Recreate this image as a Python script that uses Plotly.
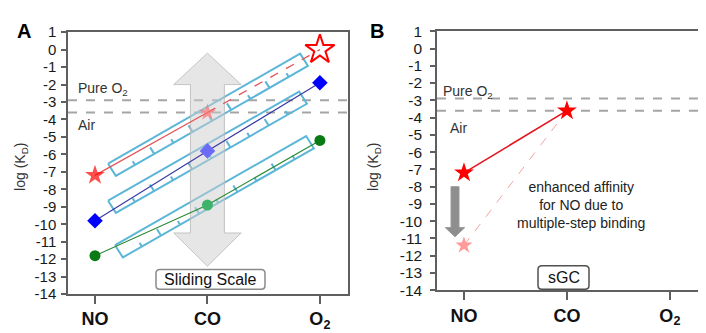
import plotly.graph_objects as go

# ---------------- data ----------------
categories = ["NO", "CO", "O2"]
cat_pos = [0, 1, 2]
cat_labels = ["<b>NO</b>", "<b>CO</b>", "<b>O<sub>2</sub></b>"]

red_vals = [-7.2, -3.6, 0.0]      # star series (panel A)
blue_vals = [-9.8, -5.8, -1.9]    # diamond series
green_vals = [-11.8, -8.9, -5.2]  # circle series

pure_o2 = -2.9
air = -3.6

sgc_vals = [-7.2, -3.6]           # panel B, NO and CO
sgc_enhanced_no = -11.4           # pink star after multi-step binding

ytick_vals = list(range(-14, 2))
ytick_text = [str(v) for v in ytick_vals]

# ruler (sliding scale) centre lines, data units: (x0, y0, x1, y1)
ruler_top = [0.151, -6.88, 1.859, -0.58]
ruler_mid = [0.151, -9.0, 1.850, -2.75]
ruler_bot = [0.213, -11.55, 1.912, -5.30]

FONT = "Arial, Liberation Sans, sans-serif"
W, H = 706, 333

# panel geometry (pixels)
PA = dict(x0=60, x1=340, y0=16, y1=292, xr=(-0.24, 2.25), yr=(-14, 1))
PB = dict(x0=429, x1=701, y0=15, y1=288, xr=(-0.262, 2.38), yr=(-14, 1))


def to_px(P, x, y):
    px = P["x0"] + (x - P["xr"][0]) / (P["xr"][1] - P["xr"][0]) * (P["x1"] - P["x0"])
    py = P["y1"] - (y - P["yr"][0]) / (P["yr"][1] - P["yr"][0]) * (P["y1"] - P["y0"])
    return px, py


def to_data(P, px, py):
    x = P["xr"][0] + (px - P["x0"]) / (P["x1"] - P["x0"]) * (P["xr"][1] - P["xr"][0])
    y = P["yr"][0] + (P["y1"] - py) / (P["y1"] - P["y0"]) * (P["yr"][1] - P["yr"][0])
    return x, y


def ruler_paths(P, r, thick=15, n=10):
    ax, ay = to_px(P, r[0], r[1])
    bx, by = to_px(P, r[2], r[3])
    L = ((bx - ax) ** 2 + (by - ay) ** 2) ** 0.5
    ux, uy = (bx - ax) / L, (by - ay) / L
    nx, ny = -uy, ux  # points down-right on screen
    h = thick / 2
    corners = [(ax - nx * h, ay - ny * h), (bx - nx * h, by - ny * h),
               (bx + nx * h, by + ny * h), (ax + nx * h, ay + ny * h),
               (ax - nx * h, ay - ny * h)]
    xs, ys = [], []
    for c in corners:
        d = to_data(P, *c)
        xs.append(d[0]); ys.append(d[1])
    xs.append(None); ys.append(None)
    for k in range(1, n):
        bxk = ax + ux * L * k / n + nx * h
        byk = ay + uy * L * k / n + ny * h
        ln = 8 if k % 2 == 0 else 4.5
        for p in [(bxk, byk), (bxk - nx * ln, byk - ny * ln)]:
            d = to_data(P, *p)
            xs.append(d[0]); ys.append(d[1])
        xs.append(None); ys.append(None)
    return xs, ys


def rounded_box_path(cx, cy, w, h, r=4):
    """rounded rectangle in paper coords, from pixel centre/size"""
    x0, x1 = cx - w / 2, cx + w / 2
    y0, y1 = cy - h / 2, cy + h / 2
    def P(x, y):
        return f"{x / W:.5f},{1 - y / H:.5f}"
    return (f"M {P(x0 + r, y0)} L {P(x1 - r, y0)} Q {P(x1, y0)} {P(x1, y0 + r)} "
            f"L {P(x1, y1 - r)} Q {P(x1, y1)} {P(x1 - r, y1)} L {P(x0 + r, y1)} "
            f"Q {P(x0, y1)} {P(x0, y1 - r)} L {P(x0, y0 + r)} Q {P(x0, y0)} {P(x0 + r, y0)} Z")


fig = go.Figure()

# rulers
for r in [ruler_top, ruler_mid, ruler_bot]:
    xs, ys = ruler_paths(PA, r)
    fig.add_trace(go.Scatter(x=xs, y=ys, mode="lines", line=dict(color="#5cb6d8", width=2),
                             hoverinfo="skip", showlegend=False, xaxis="x", yaxis="y"))

# big double arrow (sliding scale) - centred on CO
arr_c = 1.0
shaft_hw, head_hw = 0.151, 0.30
tip_top, base_top, base_bot, tip_bot = -0.2, -2.0, -10.5, -12.4
ax_ = [arr_c, arr_c + head_hw, arr_c + shaft_hw, arr_c + shaft_hw, arr_c + head_hw, arr_c,
       arr_c - head_hw, arr_c - shaft_hw, arr_c - shaft_hw, arr_c - head_hw, arr_c]
ay_ = [tip_top, base_top, base_top, base_bot, base_bot, tip_bot,
       base_bot, base_bot, base_top, base_top, tip_top]
fig.add_trace(go.Scatter(x=ax_, y=ay_, mode="lines", fill="toself",
                         fillcolor="rgba(205,205,205,0.5)",
                         line=dict(color="rgba(185,185,185,0.8)", width=1),
                         hoverinfo="skip", showlegend=False, xaxis="x", yaxis="y"))

# series lines panel A
fig.add_trace(go.Scatter(x=cat_pos[:2], y=red_vals[:2], mode="lines",
                         line=dict(color="#e25458", width=1.2), showlegend=False))
fig.add_trace(go.Scatter(x=cat_pos[1:], y=red_vals[1:], mode="lines",
                         line=dict(color="#e25458", width=1.3, dash="dash"), showlegend=False))
fig.add_trace(go.Scatter(x=cat_pos, y=blue_vals, mode="lines",
                         line=dict(color="#3b3ba8", width=1.2), showlegend=False))
fig.add_trace(go.Scatter(x=cat_pos, y=green_vals, mode="lines",
                         line=dict(color="#2e8b3a", width=1.2), showlegend=False))

# markers panel A
fig.add_trace(go.Scatter(x=cat_pos[:2], y=red_vals[:2], mode="markers",
                         marker=dict(symbol="star", size=[15, 13], color=["#ff0000", "#f87070"],
                                     line=dict(width=0)), showlegend=False))
fig.add_trace(go.Scatter(x=[cat_pos[2]], y=[red_vals[2]], mode="markers",
                         marker=dict(symbol="star-open", size=22, color="#ff0000",
                                     line=dict(width=2)), showlegend=False))
fig.add_trace(go.Scatter(x=cat_pos, y=blue_vals, mode="markers",
                         marker=dict(symbol="diamond", size=12,
                                     color=["#0000ff", "#6b6bf5", "#0000ff"], line=dict(width=0)),
                         showlegend=False))
fig.add_trace(go.Scatter(x=cat_pos, y=green_vals, mode="markers",
                         marker=dict(symbol="circle", size=11,
                                     color=["#0a7a14", "#3db36b", "#0a7a14"], line=dict(width=0)),
                         showlegend=False))

# ---------------- panel B ----------------
# down arrow
bc = -0.087
b_shaft, b_head = 0.039, 0.095
b_top, b_base, b_tip = -8.0, -10.37, -10.9
fig.add_trace(go.Scatter(
    x=[bc - b_shaft, bc + b_shaft, bc + b_shaft, bc + b_head, bc, bc - b_head, bc - b_shaft, bc - b_shaft],
    y=[b_top, b_top, b_base, b_base, b_tip, b_base, b_base, b_top],
    mode="lines", fill="toself", fillcolor="#8e8e8e", line=dict(color="#9a9a9a", width=1),
    hoverinfo="skip", showlegend=False, xaxis="x2", yaxis="y2"))

fig.add_trace(go.Scatter(x=[cat_pos[0], cat_pos[1]], y=[sgc_enhanced_no, sgc_vals[1]], mode="lines",
                         line=dict(color="#f4a3a3", width=1, dash="dash"), showlegend=False,
                         xaxis="x2", yaxis="y2"))
fig.add_trace(go.Scatter(x=cat_pos[:2], y=sgc_vals, mode="lines+markers",
                         line=dict(color="#e5141e", width=1.6),
                         marker=dict(symbol="star", size=15, color="#ff0000", line=dict(width=0)),
                         showlegend=False, xaxis="x2", yaxis="y2"))
fig.add_trace(go.Scatter(x=[cat_pos[0]], y=[sgc_enhanced_no], mode="markers",
                         marker=dict(symbol="star", size=13, color="#ff9a9a", line=dict(width=0)),
                         showlegend=False, xaxis="x2", yaxis="y2"))

# ---------------- axes ----------------
def dom_x(P):
    return [P["x0"] / W, P["x1"] / W]


def dom_y(P):
    return [(H - P["y1"]) / H, (H - P["y0"]) / H]


axis_common = dict(showgrid=False, zeroline=False, showline=True, mirror=True,
                   linecolor="#5f5f5f", linewidth=1.5, ticks="outside", tickcolor="#5f5f5f",
                   tickwidth=1.5)

fig.update_layout(
    width=W, height=H, margin=dict(l=0, r=0, t=0, b=0),
    paper_bgcolor="white", plot_bgcolor="white",
    font=dict(family=FONT, color="#222"),
    xaxis=dict(domain=dom_x(PA), range=list(PA["xr"]), tickvals=cat_pos, ticktext=cat_labels,
               ticklen=8, tickfont=dict(size=18, color="#111"), anchor="y", **axis_common),
    yaxis=dict(domain=dom_y(PA), range=list(PA["yr"]), tickvals=ytick_vals, ticktext=ytick_text,
               ticklen=5, ticklabelstandoff=2, tickfont=dict(size=15, color="#1a1a1a"),
               anchor="x", **axis_common),
    xaxis2=dict(domain=dom_x(PB), range=list(PB["xr"]), tickvals=cat_pos, ticktext=cat_labels,
                ticklen=8, tickfont=dict(size=18, color="#111"), anchor="y2", **axis_common),
    yaxis2=dict(domain=dom_y(PB), range=list(PB["yr"]), tickvals=ytick_vals, ticktext=ytick_text,
                ticklen=5, ticklabelstandoff=5, tickfont=dict(size=15.5, color="#1a1a1a"),
                anchor="x2", **axis_common),
)

dash_line = dict(color="#a5a5a5", width=2, dash="dash")
shapes = []
for xr_, yr_ in [("x domain", "y"), ("x2 domain", "y2")]:
    for v in [pure_o2, air]:
        shapes.append(dict(type="line", xref=xr_, yref=yr_, x0=0, x1=1, y0=v, y1=v,
                           line=dash_line, layer="below"))
# rounded boxes (Sliding Scale, sGC)
shapes.append(dict(type="path", xref="paper", yref="paper",
                   path=rounded_box_path(202.5, 276.5, 109, 21, 4),
                   fillcolor="white", line=dict(color="#8a8a8a", width=1.5), layer="above"))
shapes.append(dict(type="path", xref="paper", yref="paper",
                   path=rounded_box_path(555.5, 274.5, 51, 25, 4),
                   fillcolor="white", line=dict(color="#505050", width=1.5), layer="above"))
fig.update_layout(shapes=shapes)

ann = []
# panel letters
ann.append(dict(text="<b>A</b>", x=16 / W, y=1 - 15 / H, xref="paper", yref="paper",
                xanchor="center", yanchor="middle", showarrow=False, font=dict(size=20, color="#000")))
ann.append(dict(text="<b>B</b>", x=369 / W, y=1 - 15 / H, xref="paper", yref="paper",
                xanchor="center", yanchor="middle", showarrow=False, font=dict(size=20, color="#000")))
# y titles
ann.append(dict(text="log (K<sub>D</sub>)", x=13 / W, y=1 - 158 / H, xref="paper", yref="paper",
                xanchor="center", yanchor="middle",
                textangle=-90, showarrow=False, font=dict(size=14, color="#333")))
ann.append(dict(text="log (K<sub>D</sub>)", x=366 / W, y=1 - 158 / H, xref="paper", yref="paper",
                xanchor="center", yanchor="middle",
                textangle=-90, showarrow=False, font=dict(size=14, color="#333")))
# reference lines labels
for xa, ya, xp, yp, xa2, ya2 in [("x", "y", -0.169, -2.27, -0.169, -4.3),
                                 ("x2", "y2", -0.223, -2.5, -0.155, -4.6)]:
    ann.append(dict(text="Pure O<sub>2</sub>", x=xp, y=yp, xref=xa, yref=ya, xanchor="left",
                    showarrow=False, font=dict(size=14, color="#333")))
    ann.append(dict(text="Air", x=xa2, y=ya2, xref=xa, yref=ya, xanchor="left",
                    showarrow=False, font=dict(size=14, color="#333")))
# box texts
ann.append(dict(text="Sliding Scale", x=202.5 / W, y=1 - 276.5 / H, xref="paper", yref="paper",
                xanchor="center", yanchor="middle", showarrow=False,
                font=dict(size=16, color="#111")))
ann.append(dict(text="sGC", x=555.5 / W, y=1 - 274.5 / H, xref="paper", yref="paper",
                xanchor="center", yanchor="middle", showarrow=False,
                font=dict(size=16, color="#111")))
ann.append(dict(text="enhanced affinity<br>for NO due to<br>multiple-step binding",
                x=1.136, y=-9.08, xref="x2", yref="y2", showarrow=False,
                font=dict(size=14, color="#222"), align="center"))
fig.update_layout(annotations=ann)

fig.write_html("out.html")
